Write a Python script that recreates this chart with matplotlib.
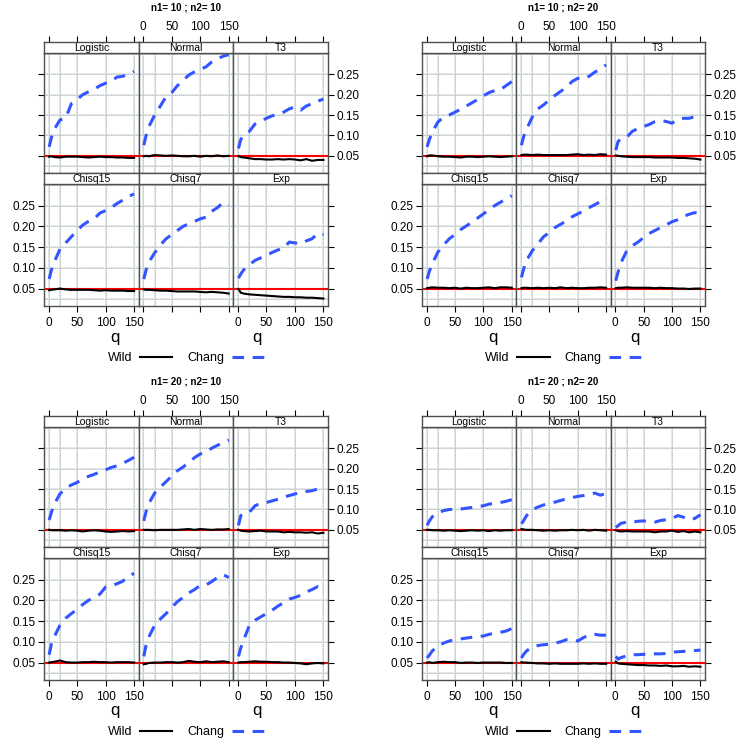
import numpy as np
import matplotlib
matplotlib.use('Agg')
import matplotlib.pyplot as plt

plt.rcParams['font.family'] = ['Liberation Sans', 'DejaVu Sans']

# values
q = [1, 5, 10, 20, 30, 40, 50, 60, 70, 80, 90, 100, 110, 120, 130, 140, 150]
panels = ["Logistic", "Normal", "T3", "Chisq15", "Chisq7", "Exp"]

chang_10_10 = [
    [0.072, 0.095, 0.115, 0.138, 0.142, 0.178, 0.188, 0.200, 0.207, 0.213, 0.222, 0.228, 0.233, 0.243, 0.245, 0.250, 0.257],
    [0.076, 0.100, 0.122, 0.150, 0.172, 0.195, 0.205, 0.222, 0.235, 0.248, 0.256, 0.262, 0.268, 0.280, 0.288, 0.294, 0.298],
    [0.068, 0.090, 0.100, 0.110, 0.128, 0.135, 0.142, 0.148, 0.152, 0.157, 0.165, 0.170, 0.162, 0.172, 0.178, 0.184, 0.189],
    [0.073, 0.095, 0.114, 0.145, 0.160, 0.175, 0.190, 0.203, 0.212, 0.218, 0.232, 0.238, 0.245, 0.255, 0.263, 0.272, 0.278],
    [0.073, 0.095, 0.114, 0.136, 0.155, 0.170, 0.180, 0.190, 0.200, 0.206, 0.212, 0.218, 0.222, 0.236, 0.245, 0.257, 0.250],
    [0.075, 0.085, 0.095, 0.107, 0.118, 0.124, 0.130, 0.137, 0.143, 0.147, 0.162, 0.160, 0.158, 0.165, 0.170, 0.183, 0.180],
]
wild_10_10 = [
    [0.048, 0.049, 0.047, 0.046, 0.048, 0.048, 0.048, 0.047, 0.046, 0.047, 0.048, 0.047, 0.047, 0.046, 0.046, 0.045, 0.045],
    [0.049, 0.050, 0.049, 0.052, 0.051, 0.050, 0.051, 0.050, 0.049, 0.049, 0.050, 0.048, 0.050, 0.049, 0.051, 0.049, 0.050],
    [0.049, 0.047, 0.046, 0.044, 0.042, 0.042, 0.041, 0.041, 0.042, 0.041, 0.042, 0.041, 0.039, 0.042, 0.038, 0.040, 0.040],
    [0.046, 0.047, 0.048, 0.050, 0.048, 0.047, 0.047, 0.047, 0.047, 0.046, 0.045, 0.046, 0.045, 0.045, 0.045, 0.044, 0.044],
    [0.048, 0.047, 0.047, 0.046, 0.045, 0.045, 0.044, 0.043, 0.043, 0.043, 0.043, 0.042, 0.041, 0.042, 0.041, 0.040, 0.038],
    [0.049, 0.040, 0.038, 0.036, 0.035, 0.034, 0.033, 0.032, 0.031, 0.030, 0.030, 0.029, 0.029, 0.028, 0.028, 0.027, 0.026],
]

chang_10_20 = [
    [0.072, 0.090, 0.108, 0.133, 0.145, 0.150, 0.157, 0.164, 0.172, 0.180, 0.188, 0.197, 0.205, 0.210, 0.212, 0.222, 0.232],
    [0.076, 0.098, 0.115, 0.145, 0.165, 0.175, 0.187, 0.198, 0.208, 0.218, 0.232, 0.240, 0.238, 0.245, 0.255, 0.263, 0.273],
    [0.064, 0.085, 0.092, 0.095, 0.110, 0.117, 0.122, 0.127, 0.134, 0.137, 0.134, 0.130, 0.140, 0.142, 0.142, 0.146, 0.154],
    [0.073, 0.092, 0.110, 0.138, 0.155, 0.170, 0.180, 0.192, 0.201, 0.210, 0.220, 0.230, 0.240, 0.250, 0.258, 0.266, 0.274],
    [0.077, 0.098, 0.118, 0.141, 0.158, 0.175, 0.185, 0.197, 0.205, 0.213, 0.223, 0.230, 0.237, 0.245, 0.252, 0.260, 0.270],
    [0.069, 0.090, 0.112, 0.140, 0.153, 0.162, 0.173, 0.183, 0.190, 0.197, 0.204, 0.211, 0.216, 0.224, 0.229, 0.233, 0.229],
]
wild_10_20 = [
    [0.049, 0.051, 0.051, 0.049, 0.048, 0.048, 0.047, 0.046, 0.048, 0.048, 0.047, 0.048, 0.049, 0.048, 0.047, 0.048, 0.049],
    [0.052, 0.053, 0.053, 0.052, 0.053, 0.052, 0.052, 0.052, 0.052, 0.052, 0.053, 0.054, 0.052, 0.053, 0.052, 0.054, 0.053],
    [0.051, 0.050, 0.049, 0.048, 0.047, 0.047, 0.047, 0.047, 0.046, 0.046, 0.046, 0.046, 0.045, 0.045, 0.044, 0.043, 0.041],
    [0.051, 0.052, 0.053, 0.052, 0.052, 0.051, 0.052, 0.050, 0.052, 0.051, 0.051, 0.052, 0.053, 0.051, 0.053, 0.053, 0.052],
    [0.051, 0.052, 0.052, 0.051, 0.052, 0.051, 0.052, 0.051, 0.053, 0.051, 0.052, 0.051, 0.051, 0.052, 0.052, 0.053, 0.052],
    [0.051, 0.052, 0.052, 0.053, 0.052, 0.052, 0.052, 0.052, 0.051, 0.052, 0.051, 0.051, 0.050, 0.050, 0.049, 0.050, 0.050],
]

chang_20_10 = [
    [0.074, 0.093, 0.113, 0.138, 0.152, 0.160, 0.166, 0.175, 0.181, 0.186, 0.192, 0.197, 0.203, 0.207, 0.213, 0.220, 0.228],
    [0.072, 0.095, 0.115, 0.140, 0.155, 0.168, 0.182, 0.195, 0.204, 0.215, 0.227, 0.236, 0.240, 0.250, 0.257, 0.264, 0.270],
    [0.061, 0.085, 0.090, 0.093, 0.109, 0.115, 0.117, 0.121, 0.125, 0.130, 0.134, 0.138, 0.141, 0.144, 0.146, 0.150, 0.154],
    [0.069, 0.095, 0.112, 0.140, 0.157, 0.168, 0.178, 0.190, 0.200, 0.207, 0.215, 0.232, 0.235, 0.240, 0.246, 0.258, 0.265],
    [0.065, 0.092, 0.112, 0.140, 0.155, 0.168, 0.183, 0.197, 0.207, 0.218, 0.226, 0.236, 0.237, 0.245, 0.255, 0.262, 0.255],
    [0.065, 0.085, 0.104, 0.139, 0.152, 0.160, 0.168, 0.176, 0.186, 0.194, 0.203, 0.207, 0.212, 0.220, 0.226, 0.233, 0.229],
]
wild_20_10 = [
    [0.050, 0.049, 0.049, 0.049, 0.048, 0.049, 0.048, 0.046, 0.048, 0.049, 0.048, 0.046, 0.045, 0.046, 0.047, 0.046, 0.047],
    [0.050, 0.050, 0.050, 0.049, 0.050, 0.050, 0.050, 0.050, 0.051, 0.052, 0.050, 0.052, 0.051, 0.050, 0.051, 0.051, 0.052],
    [0.050, 0.048, 0.047, 0.046, 0.047, 0.048, 0.046, 0.046, 0.046, 0.044, 0.045, 0.044, 0.044, 0.043, 0.044, 0.041, 0.043],
    [0.050, 0.051, 0.052, 0.055, 0.051, 0.050, 0.050, 0.051, 0.051, 0.052, 0.051, 0.051, 0.050, 0.051, 0.051, 0.051, 0.050],
    [0.046, 0.047, 0.049, 0.050, 0.050, 0.051, 0.051, 0.050, 0.051, 0.054, 0.052, 0.051, 0.053, 0.051, 0.052, 0.053, 0.051],
    [0.050, 0.051, 0.051, 0.052, 0.053, 0.052, 0.052, 0.051, 0.051, 0.050, 0.050, 0.049, 0.048, 0.046, 0.048, 0.049, 0.048],
]

chang_20_20 = [
    [0.061, 0.072, 0.082, 0.092, 0.097, 0.100, 0.100, 0.101, 0.103, 0.105, 0.107, 0.109, 0.113, 0.115, 0.117, 0.120, 0.124],
    [0.065, 0.073, 0.085, 0.099, 0.106, 0.111, 0.114, 0.118, 0.122, 0.126, 0.129, 0.132, 0.134, 0.137, 0.140, 0.135, 0.139],
    [0.056, 0.060, 0.066, 0.069, 0.069, 0.071, 0.072, 0.070, 0.069, 0.073, 0.075, 0.078, 0.085, 0.081, 0.075, 0.078, 0.087],
    [0.061, 0.068, 0.078, 0.090, 0.097, 0.102, 0.105, 0.107, 0.109, 0.111, 0.113, 0.114, 0.118, 0.121, 0.123, 0.126, 0.132],
    [0.061, 0.070, 0.078, 0.088, 0.091, 0.093, 0.094, 0.097, 0.100, 0.105, 0.106, 0.102, 0.110, 0.117, 0.118, 0.116, 0.116],
    [0.065, 0.058, 0.062, 0.066, 0.069, 0.069, 0.070, 0.070, 0.071, 0.071, 0.072, 0.075, 0.076, 0.077, 0.078, 0.079, 0.080],
]
wild_20_20 = [
    [0.050, 0.050, 0.049, 0.049, 0.048, 0.049, 0.048, 0.047, 0.048, 0.049, 0.048, 0.049, 0.047, 0.049, 0.048, 0.049, 0.049],
    [0.052, 0.051, 0.050, 0.050, 0.049, 0.048, 0.049, 0.048, 0.049, 0.049, 0.050, 0.049, 0.050, 0.048, 0.050, 0.049, 0.048],
    [0.049, 0.047, 0.046, 0.047, 0.046, 0.046, 0.046, 0.046, 0.044, 0.046, 0.046, 0.048, 0.045, 0.047, 0.044, 0.046, 0.044],
    [0.050, 0.051, 0.049, 0.051, 0.052, 0.051, 0.051, 0.049, 0.050, 0.050, 0.049, 0.050, 0.050, 0.050, 0.050, 0.049, 0.049],
    [0.051, 0.050, 0.050, 0.049, 0.048, 0.048, 0.047, 0.048, 0.047, 0.047, 0.047, 0.047, 0.048, 0.047, 0.048, 0.047, 0.047],
    [0.052, 0.048, 0.047, 0.046, 0.045, 0.044, 0.044, 0.043, 0.043, 0.042, 0.043, 0.041, 0.041, 0.042, 0.040, 0.041, 0.040],
]

titles = ["n1= 10 ; n2= 10", "n1= 10 ; n2= 20", "n1= 20 ; n2= 10", "n1= 20 ; n2= 20"]
chang_all = [chang_10_10, chang_10_20, chang_20_10, chang_20_20]
wild_all = [wild_10_10, wild_10_20, wild_20_10, wild_20_20]

W, H = 750, 747
fig = plt.figure(figsize=(W / 100, H / 100), dpi=100)

def rect(x0, y0, x1, y1):
    return [x0 / W, 1 - y1 / H, (x1 - x0) / W, (y1 - y0) / H]

frame_col = '#505050'
blue = '#3355ff'
xt = [0, 50, 100, 150]
yt = [0.05, 0.10, 0.15, 0.20, 0.25]
xlim = (-8, 158)
ylim = (0.008, 0.302)
tick_fs = 8.5

# subfigure origins and left/right panel edges
origins = [(0, 0, 44, 328), (375, 0, 47, 330), (0, 374, 44, 328), (375, 374, 47, 330)]
rows = [(42, 53, 173), (173, 184, 306)]   # strip top, panel top, panel bottom

for k in range(4):
    ox, oy, pl, pr = origins[k]
    pw = (pr - pl) / 3.0
    for i in range(6):
        r, c = i // 3, i % 3
        st, pt, pb = rows[r]
        x0 = ox + pl + c * pw
        x1 = x0 + pw
        ax = fig.add_axes(rect(x0, oy + pt, x1, oy + pb))
        sax = fig.add_axes(rect(x0, oy + st, x1, oy + pt), sharex=ax)

        # grid
        for gx in [0, 20, 50, 100, 150]:
            ax.axvline(gx, color='#e2e8e8', lw=1.4, zorder=0)
            ax.axvline(gx, color='#a9afaf', lw=0.6, ls=(0, (1, 1.5)), zorder=0.5)
        for gy in [0.025, 0.05, 0.10, 0.15, 0.20, 0.25, 0.30]:
            ax.axhline(gy, color='#e2e8e8', lw=1.4, zorder=0)
            ax.axhline(gy, color='#a9afaf', lw=0.6, ls=(0, (1, 1.5)), zorder=0.5)

        ax.axhline(0.05, color='red', lw=1.5, zorder=2)
        lw_, = ax.plot(q, wild_all[k][i], color='black', lw=1.5, zorder=3, label='Wild')
        lc_, = ax.plot(q, chang_all[k][i], color=blue, lw=2.2, ls=(0, (3.8, 2.8)),
                       zorder=3, label='Chang')
        ax.set_xlim(*xlim)
        ax.set_ylim(*ylim)

        for sp in list(ax.spines.values()) + list(sax.spines.values()):
            sp.set_color(frame_col)
            sp.set_linewidth(1.0)

        # strip
        sax.set_ylim(0, 1)
        sax.set_facecolor('white')
        sax.text(0.5, 0.45, panels[i], transform=sax.transAxes, ha='center',
                 va='center', fontsize=7.5)
        sax.set_yticks([])
        sax.tick_params(axis='x', which='both', bottom=False, labelbottom=False,
                        top=(r == 0), labeltop=(r == 0 and c == 1),
                        direction='out', length=4, width=0.8, pad=2.5,
                        labelsize=tick_fs)
        sax.set_xticks(xt)

        ax.set_xticks(xt)
        ax.set_yticks(yt)
        ax.set_yticklabels(['%.2f' % v for v in yt])
        ax.tick_params(axis='x', direction='out', length=4, width=0.8, pad=4,
                       labelsize=tick_fs, top=False, bottom=(r == 1),
                       labelbottom=(r == 1 and c != 1))
        ax.tick_params(axis='y', direction='out', length=4, width=0.8, pad=2,
                       labelsize=tick_fs, left=(c == 0), labelleft=(c == 0 and r == 1),
                       right=(c == 2), labelright=(c == 2 and r == 0))

    # title, axis labels, legend
    fig.text((ox + (pl + pr) / 2) / W, 1 - (oy + 8) / H, titles[k], ha='center',
             va='center', fontsize=7, fontweight='bold')
    for qx in [115, 257]:
        fig.text((ox + qx + (pl - 44)) / W, 1 - (oy + 337) / H, 'q', ha='center',
                 va='center', fontsize=12)
    fig.legend(handles=[lw_, lc_], labels=['Wild', 'Chang'], loc='center',
               bbox_to_anchor=((ox + (pl + pr) / 2) / W, 1 - (oy + 358) / H),
               ncol=2, markerfirst=False, frameon=False, fontsize=9,
               handlelength=2.6, columnspacing=1.2, handletextpad=0.6)

fig.savefig('out.png', dpi=100)
